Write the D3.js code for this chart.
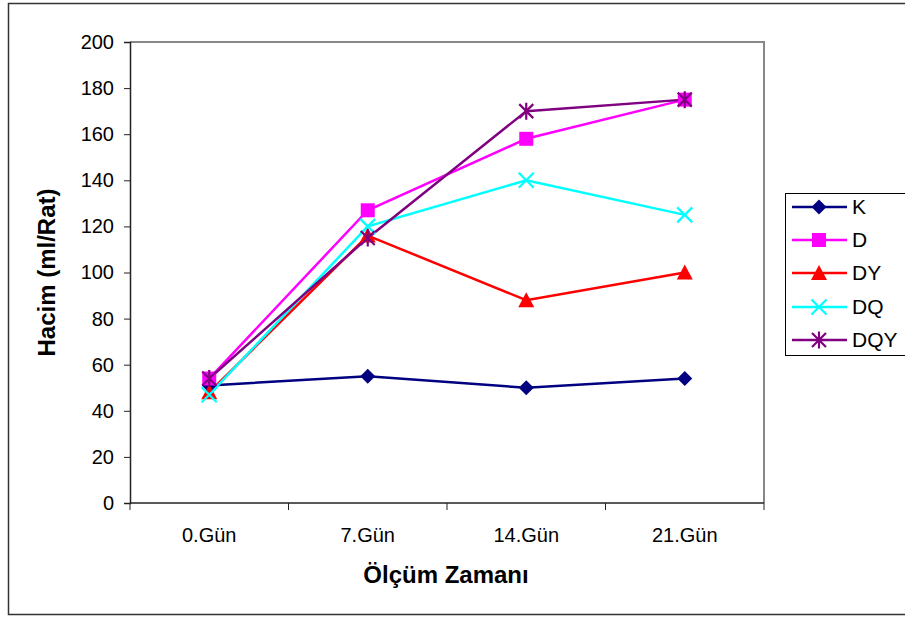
<!DOCTYPE html>
<html>
<head>
<meta charset="utf-8">
<script src="https://cdn.jsdelivr.net/npm/d3@7/dist/d3.min.js"></script>
<style>
  html, body { margin: 0; padding: 0; background: #fff; }
  svg { display: block; font-family: "Liberation Sans", Arial, sans-serif; }
</style>
</head>
<body>
<svg id="chart" width="905" height="617"></svg>
<script>
// Measurement days and group volumes (ml/Rat)
const categories = ["0.Gün", "7.Gün", "14.Gün", "21.Gün"];
const seriesNames = ["K", "D", "DY", "DQ", "DQY"];
const valuesK   = [51, 55, 50, 54];
const valuesD   = [54, 127, 158, 175];
const valuesDY  = [48, 116, 88, 100];
const valuesDQ  = [47, 120, 140, 125];
const valuesDQY = [54, 115, 170, 175];
const yTicks = [0, 20, 40, 60, 80, 100, 120, 140, 160, 180, 200];

const series = [
  { name: seriesNames[0], values: valuesK,   color: "#000080", marker: "diamond" },
  { name: seriesNames[1], values: valuesD,   color: "#FF00FF", marker: "square" },
  { name: seriesNames[2], values: valuesDY,  color: "#FF0000", marker: "triangle" },
  { name: seriesNames[3], values: valuesDQ,  color: "#00FFFF", marker: "x" },
  { name: seriesNames[4], values: valuesDQY, color: "#800080", marker: "star" }
];

const svg = d3.select("#chart");
const plot = { left: 130, right: 764, top: 42, bottom: 503 };
const FONT = "Liberation Sans, Arial, sans-serif";

// Outer chart frame
svg.append("rect")
  .attr("x", 8.5).attr("y", 3.5).attr("width", 900).attr("height", 611)
  .attr("fill", "#fff").attr("stroke", "#333").attr("stroke-width", 1.5);

const x = d3.scaleBand().domain(categories).range([plot.left, plot.right]).padding(0);
const y = d3.scaleLinear().domain([0, 200]).range([plot.bottom, plot.top]);

// Plot area border (top / right grey)
svg.append("path")
  .attr("d", `M${plot.left},${plot.top}H${plot.right}V${plot.bottom}`)
  .attr("fill", "none").attr("stroke", "#888").attr("stroke-width", 2);

// Y axis
const yAxis = d3.axisLeft(y).tickValues(yTicks).tickSize(6).tickPadding(10);
const gy = svg.append("g").attr("transform", `translate(${plot.left},0)`).call(yAxis);
gy.attr("font-family", FONT).attr("font-size", 20);
gy.select(".domain").attr("stroke", "#222").attr("stroke-width", 1.5);
gy.selectAll(".tick line").attr("stroke", "#222");
gy.selectAll(".tick text").attr("fill", "#000");

// X axis with ticks at category boundaries
const gx = svg.append("g").attr("transform", `translate(0,${plot.bottom})`);
gx.append("line").attr("x1", plot.left).attr("x2", plot.right)
  .attr("stroke", "#222").attr("stroke-width", 1.5);
const boundaries = categories.map(c => x(c)).concat([x(categories[categories.length - 1]) + x.bandwidth()]);
gx.selectAll("line.tk").data(boundaries).join("line").attr("class", "tk")
  .attr("x1", d => d).attr("x2", d => d).attr("y1", 0).attr("y2", 7)
  .attr("stroke", "#222").attr("stroke-width", 1);
gx.selectAll("text").data(categories).join("text")
  .attr("x", d => x(d) + x.bandwidth() / 2).attr("y", 39)
  .attr("text-anchor", "middle").attr("font-size", 20).attr("fill", "#000")
  .text(d => d);

// Axis titles
svg.append("text")
  .attr("transform", `translate(55,${(plot.top + plot.bottom) / 2}) rotate(-90)`)
  .attr("text-anchor", "middle").attr("font-size", 24).attr("font-weight", "bold")
  .text("Hacim (ml/Rat)");
svg.append("text")
  .attr("x", (plot.left + plot.right) / 2 - 1).attr("y", 583)
  .attr("text-anchor", "middle").attr("font-size", 24).attr("font-weight", "bold")
  .text("Ölçüm Zamanı");

// Marker drawing helper
function drawMarker(g, type, color) {
  if (type === "diamond") {
    const s = 7.5;
    g.append("path").attr("d", `M0,${-s}L${s},0L0,${s}L${-s},0Z`).attr("fill", color);
  } else if (type === "square") {
    g.append("rect").attr("x", -7).attr("y", -7).attr("width", 14).attr("height", 14).attr("fill", color);
  } else if (type === "triangle") {
    g.append("path").attr("d", `M0,-8L8,7L-8,7Z`).attr("fill", color);
  } else if (type === "x") {
    g.append("path").attr("d", `M-7.5,-7.5L7.5,7.5M-7.5,7.5L7.5,-7.5`).attr("stroke", color).attr("stroke-width", 2.2).attr("fill", "none");
  } else if (type === "star") {
    g.append("path").attr("d", `M-7,-7L7,7M-7,7L7,-7M0,-8.5V8.5`).attr("stroke", color).attr("stroke-width", 2.2).attr("fill", "none");
  }
}

const line = d3.line().x((d, i) => x(categories[i]) + x.bandwidth() / 2).y(d => y(d));

series.forEach(s => {
  svg.append("path").datum(s.values).attr("d", line)
    .attr("fill", "none").attr("stroke", s.color).attr("stroke-width", 2.5);
});
series.forEach(s => {
  s.values.forEach((v, i) => {
    const g = svg.append("g")
      .attr("transform", `translate(${x(categories[i]) + x.bandwidth() / 2},${y(v)})`);
    drawMarker(g, s.marker, s.color);
  });
});

// Legend
const legend = svg.append("g");
legend.append("rect").attr("x", 785.5).attr("y", 193.5).attr("width", 125).attr("height", 162)
  .attr("fill", "#fff").attr("stroke", "#000").attr("stroke-width", 1);
const legendY = [207, 240, 273, 307, 340];
series.forEach((s, i) => {
  const g = legend.append("g").attr("transform", `translate(0,${legendY[i]})`);
  g.append("line").attr("x1", 792).attr("x2", 847).attr("stroke", s.color).attr("stroke-width", 2.5);
  const m = g.append("g").attr("transform", "translate(819,0)");
  drawMarker(m, s.marker, s.color);
  g.append("text").attr("x", 852).attr("y", 7).attr("font-size", 21).attr("fill", "#000").text(s.name);
});
</script>
</body>
</html>
